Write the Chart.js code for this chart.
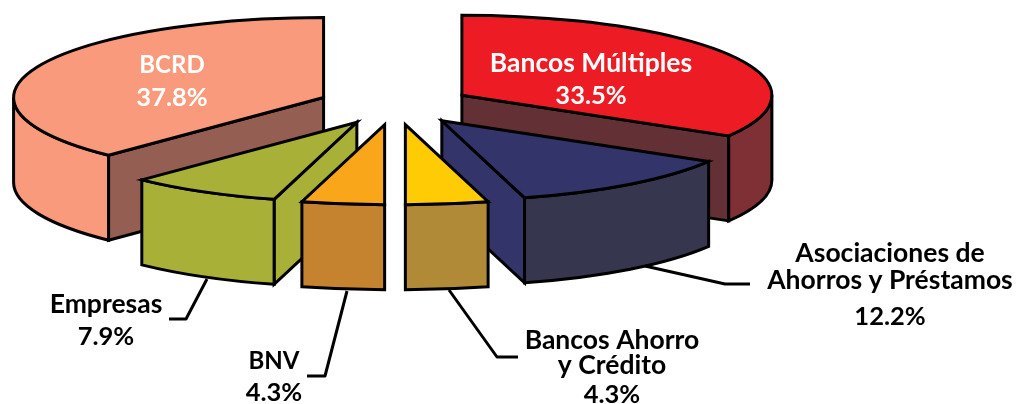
<!DOCTYPE html>
<html lang="es">
<head>
<meta charset="utf-8">
<title>Participación por entidad</title>
<script src="https://cdn.jsdelivr.net/npm/chart.js@4"></script>
<style>
  html, body { margin: 0; padding: 0; background: #fff; }
  #wrap { position: relative; width: 1017px; height: 404px; }
</style>
</head>
<body>
<div id="wrap"><canvas id="pie" width="1017" height="404"></canvas></div>
<script>
// --- Données ---
const categories = ['Bancos Múltiples', 'Asociaciones de Ahorros y Préstamos', 'Bancos Ahorro y Crédito', 'BNV', 'Empresas', 'BCRD'];
const shares = [33.5, 12.2, 4.3, 4.3, 7.9, 37.8];
const shareLabels = ['33.5%', '12.2%', '4.3%', '4.3%', '7.9%', '37.8%'];

// --- Couleurs des faces ---
const topColors = ['#ED1C24', '#33346A', '#FFCB05', '#FAA61A', '#A9B038', '#F99A7C'];
const wallColors = ['#7F3035', '#36364F', '#B08A36', '#C5822F', '#A9B038', '#F99A7C'];
const cutColors = ['#633035', '#33346A', '#B08A36', '#C5822F', '#A9B038', '#955E52'];

// --- Réglages de la perspective ---
const TILT = 0.258;     // écrasement vertical
const DEPTH = 85;       // épaisseur en px
const EXPLODE = 77;     // écart des parts en px
const RADIUS = 310;
const OUTLINE = 3;

// --- Étiquettes et traits de rappel ---
const WORD_SIZE = 26.5;
const CAPS_SIZE = 24;
const PCT_SIZE = 25.5;
const textBlocks = [
  { color: '#fff', x: 172, lines: [['BCRD', 73, CAPS_SIZE], [shareLabels[5], 106, PCT_SIZE]] },
  { color: '#fff', x: 591, lines: [['Bancos Múltiples', 72, WORD_SIZE], [shareLabels[0], 104, PCT_SIZE]] },
  { color: '#000', x: 890, lines: [['Asociaciones de', 262, WORD_SIZE], ['Ahorros y Préstamos', 289, WORD_SIZE], [shareLabels[1], 325, PCT_SIZE]] },
  { color: '#000', x: 612, lines: [['Bancos Ahorro', 349, WORD_SIZE], ['y Crédito', 374, WORD_SIZE], [shareLabels[2], 403, PCT_SIZE]] },
  { color: '#000', x: 274, lines: [['BNV', 369, CAPS_SIZE], [shareLabels[3], 401, PCT_SIZE]] },
  { color: '#000', x: 106, lines: [['Empresas', 313, WORD_SIZE], [shareLabels[4], 345, PCT_SIZE]] }
];
const leaders = [
  [[645, 266], [725, 284], [750, 284]],
  [[449, 290], [497, 357], [518, 357]],
  [[347, 291], [325, 376], [307, 376]],
  [[207, 279], [186, 319], [169, 319]]
];

function apexOf(arc) {
  const mid = (arc.startAngle + arc.endAngle) / 2;
  return {
    x: arc.x + Math.cos(mid) * EXPLODE,
    y: arc.y + Math.sin(mid) * EXPLODE * TILT
  };
}

function paintFace(ctx, color, buildPath) {
  ctx.beginPath();
  buildPath();
  ctx.closePath();
  ctx.fillStyle = color;
  ctx.fill();
  ctx.stroke();
}

function drawCut(ctx, apex, arc, angle, color) {
  const ex = apex.x + Math.cos(angle) * arc.outerRadius;
  const ey = apex.y + Math.sin(angle) * arc.outerRadius * TILT;
  paintFace(ctx, color, () => {
    ctx.moveTo(apex.x, apex.y);
    ctx.lineTo(ex, ey);
    ctx.lineTo(ex, ey + DEPTH);
    ctx.lineTo(apex.x, apex.y + DEPTH);
  });
}

// Les parts sont dessinées de l'arrière vers l'avant
const pie3d = {
  id: 'pie3d',
  beforeDatasetsDraw(chart) {
    const ctx = chart.ctx;
    const arcs = chart.getDatasetMeta(0).data.map((arc, i) => ({ arc, i, apex: apexOf(arc) }));
    arcs.sort((a, b) => a.apex.y - b.apex.y);

    ctx.save();
    ctx.strokeStyle = '#000';
    ctx.lineWidth = OUTLINE;
    ctx.lineJoin = 'miter';

    arcs.forEach(({ arc, i, apex }) => {
      const r = arc.outerRadius;
      const start = arc.startAngle;
      const end = arc.endAngle;

      // Coupes visibles
      if (Math.cos(start) < -0.01) drawCut(ctx, apex, arc, start, cutColors[i]);
      if (Math.cos(end) > 0.01 && Math.sin(end) > -0.01) drawCut(ctx, apex, arc, end, cutColors[i]);

      // Paroi extérieure (moitié avant seulement)
      const from = Math.max(start, 0);
      const to = Math.min(end, Math.PI);
      if (to > from) {
        paintFace(ctx, wallColors[i], () => {
          ctx.ellipse(apex.x, apex.y, r, r * TILT, 0, from, to);
          ctx.ellipse(apex.x, apex.y + DEPTH, r, r * TILT, 0, to, from, true);
        });
      }

      // Dessus : l'élément arc de Chart.js, écrasé
      ctx.save();
      ctx.translate(apex.x, apex.y);
      ctx.scale(1, TILT);
      ctx.translate(-arc.x, -arc.y);
      arc.draw(ctx);
      ctx.restore();

      ctx.beginPath();
      ctx.moveTo(apex.x, apex.y);
      ctx.ellipse(apex.x, apex.y, r, r * TILT, 0, start, end);
      ctx.closePath();
      ctx.stroke();
    });

    ctx.restore();
    return false;
  },
  afterDraw(chart) {
    const ctx = chart.ctx;
    ctx.save();
    ctx.strokeStyle = '#000';
    ctx.lineWidth = OUTLINE;
    ctx.lineJoin = 'round';
    leaders.forEach(points => {
      ctx.beginPath();
      points.forEach(([x, y], n) => (n ? ctx.lineTo(x, y) : ctx.moveTo(x, y)));
      ctx.stroke();
    });

    ctx.textAlign = 'center';
    ctx.textBaseline = 'alphabetic';
    textBlocks.forEach(block => {
      ctx.fillStyle = block.color;
      block.lines.forEach(([text, y, size]) => {
        ctx.font = `bold ${size}px Lato, sans-serif`;
        ctx.fillText(text, block.x, y);
      });
    });
    ctx.restore();
  }
};

new Chart(document.getElementById('pie'), {
  type: 'pie',
  data: {
    labels: categories,
    datasets: [{
      data: shares,
      backgroundColor: topColors,
      borderWidth: 0
    }]
  },
  options: {
    responsive: false,
    animation: false,
    radius: RADIUS,
    // Centre du camembert en (395, 105)
    layout: { padding: { right: 227, bottom: 194 } },
    plugins: {
      legend: { display: false },
      tooltip: { enabled: false }
    }
  },
  plugins: [pie3d]
});
</script>
</body>
</html>
